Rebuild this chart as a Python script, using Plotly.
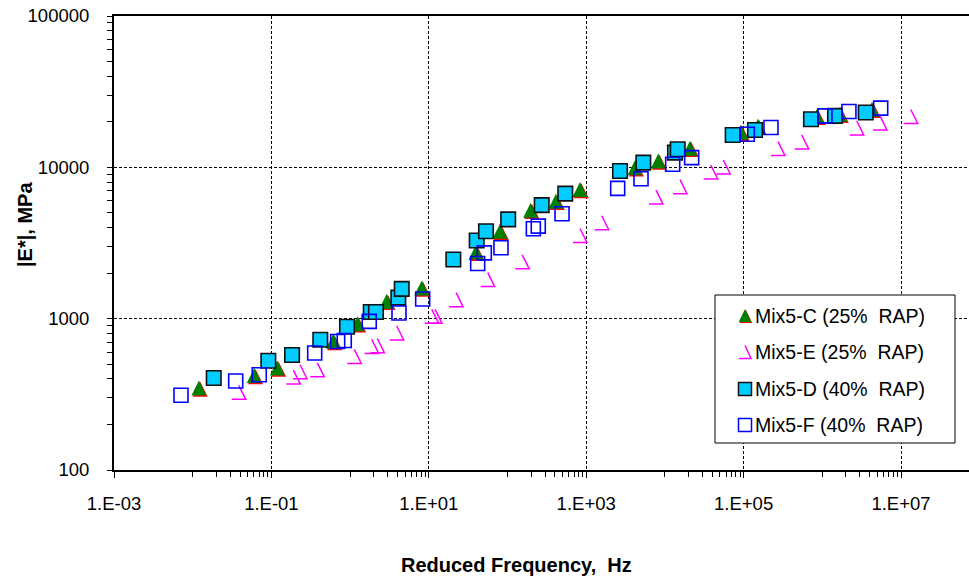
import plotly.graph_objects as go

# Dynamic modulus master curves: reduced frequency (Hz) vs |E*| (MPa)

# Mix5-C (25% RAP)
c_freq = [0.0120, 0.0607, 0.119, 0.612, 1.24, 2.92, 8.13, 39.8, 80.3, 197, 413, 834,
          4170, 8240, 20840, 92700, 152000, 857000, 1.68e6, 4.28e6]
c_mod = [348, 421, 472, 708, 926, 1302, 1597, 2748, 3785, 5214, 5980, 7148,
         9950, 11010, 13360, 17060, 18700, 21760, 22440, 24210]

# Mix5-E (25% RAP)
e_freq = [0.0385, 0.190, 0.231, 0.383, 1.13, 1.88, 2.22, 3.91, 10.9, 12.0, 22.2, 56.0,
          154, 834, 1574, 7710, 15560, 38200, 55200, 273500, 547000, 2.74e6, 5.41e6, 1.33e7]
e_mod = [326, 411, 446, 459, 563, 656, 663, 804, 1036, 1036, 1336, 1812,
         2374, 3545, 4303, 6357, 7450, 9310, 10050, 13300, 14720, 18200, 19650, 21670]

# Mix5-D (40% RAP)
d_freq = [0.0185, 0.0914, 0.183, 0.418, 0.914, 1.83, 2.13, 4.10, 4.53, 20.5, 40.6, 53.3,
          102, 272, 542, 2690, 5320, 13430, 14550, 72600, 139600, 718000, 1.45e6, 3.56e6]
d_mod = [405, 527, 575, 726, 885, 1107, 1107, 1377, 1573, 2459, 3285, 3785,
         4527, 5627, 6698, 9450, 10740, 12510, 13160, 16370, 17660, 20800, 21870, 23030]

# Mix5-F (40% RAP)
f_freq = [0.0071, 0.0352, 0.0701, 0.355, 0.695, 0.843, 1.75, 4.18, 8.36, 41.8, 50.7, 82.6,
          213, 246, 493, 2512, 4970, 12560, 21880, 111400, 222800, 1.08e6, 2.18e6, 5.52e6]
f_mod = [312, 387, 426, 593, 707, 718, 960, 1091, 1350, 2313, 2723, 2940,
         3926, 4085, 4935, 7261, 8415, 10470, 11590, 16550, 18330, 21870, 23380, 24600]

series_names = ["Mix5-C (25%\u00a0 RAP)", "Mix5-E (25%\u00a0 RAP)",
                "Mix5-D (40%\u00a0 RAP)", "Mix5-F (40%\u00a0 RAP)"]

x_tick_vals = [1e-3, 1e-1, 1e1, 1e3, 1e5, 1e7]
x_tick_text = ["1.E-03", "1.E-01", "1.E+01", "1.E+03", "1.E+05", "1.E+07"]
y_tick_vals = [100, 1000, 10000, 100000]
y_tick_text = ["100", "1000", "10000", "100000"]

# ---- geometry ----
W, H = 969, 582
ML, MR, MT, MB = 114, 0, 16, 112
X_RANGE = [-3, 7.864]
Y_RANGE = [2, 5]
PLOT_W = W - ML - MR
PLOT_H = H - MT - MB
PX_X = PLOT_W / (X_RANGE[1] - X_RANGE[0])   # pixels per decade, x
PX_Y = PLOT_H / (Y_RANGE[1] - Y_RANGE[0])   # pixels per decade, y

FONT = "Liberation Sans, Arial, sans-serif"


def nudge(vals, px, per_decade):
    """Move log-scaled values by a fixed number of screen pixels."""
    k = 10 ** (px / per_decade)
    return [v * k for v in vals]


def hook_marks(freqs, mods, hw, hh):
    """Open triangle drawn with only its right side and base."""
    kx = 10 ** (hw / PX_X)
    ky = 10 ** (hh / PX_Y)
    xs, ys = [], []
    for f, m in zip(freqs, mods):
        xs += [f, f * kx, f / kx, None]
        ys += [m * ky, m / ky, m / ky, None]
    return xs, ys


def paper_x(px):
    return (px - ML) / PLOT_W


def paper_y(py):
    return (H - MB - py) / PLOT_H


TRI = 15  # triangle marker size (apex sits on the anchor point)

fig = go.Figure()

# Mix5-C: green triangles with a red edge offset down-right
fig.add_trace(go.Scatter(
    x=nudge(c_freq, 1.3, PX_X), y=nudge(c_mod, TRI / 2 - 1.3, PX_Y),
    mode="markers", hoverinfo="skip",
    marker=dict(symbol="arrow-up", size=TRI, color="#FF0000", line=dict(width=0))))
fig.add_trace(go.Scatter(
    x=c_freq, y=nudge(c_mod, TRI / 2, PX_Y), name=series_names[0],
    mode="markers",
    marker=dict(symbol="arrow-up", size=TRI, color="#008000", line=dict(width=0))))

# Mix5-E: magenta open hooks
ex, ey = hook_marks(e_freq, e_mod, 7, 7)
fig.add_trace(go.Scatter(
    x=ex, y=ey, name=series_names[1], mode="lines", connectgaps=False,
    line=dict(color="#FF00FF", width=1.5)))

# Mix5-D: cyan squares with black border
fig.add_trace(go.Scatter(
    x=d_freq, y=d_mod, name=series_names[2], mode="markers",
    marker=dict(symbol="square", size=14.5, color="#00CCFF",
                line=dict(color="#111111", width=1.6))))

# Mix5-F: blue open squares
fig.add_trace(go.Scatter(
    x=f_freq, y=f_mod, name=series_names[3], mode="markers",
    marker=dict(symbol="square-open", size=14, color="#0000FF",
                line=dict(width=1.6))))

# x minor ticks every tenth of a two-decade step, y minor ticks at 2..9
x_minor = [m * 10 ** (k + 1) for k in range(-3, 8, 2) for m in range(1, 10)]
y_minor = [m * 10 ** k for k in range(2, 5) for m in range(2, 10)]

grid = dict(showgrid=True, gridcolor="#000000", gridwidth=1, griddash="3px,2px")

fig.update_xaxes(
    type="log", range=X_RANGE, tickmode="array", tickvals=x_tick_vals,
    ticktext=x_tick_text, ticks="outside", ticklen=6, tickwidth=1,
    tickcolor="#000000", showline=True, linecolor="#000000", linewidth=2,
    mirror=True, zeroline=False, ticklabelstandoff=10,
    tickfont=dict(family=FONT, size=18.5, color="#000000"),
    minor=dict(tickmode="array", tickvals=x_minor, ticks="outside", ticklen=5,
               tickwidth=1, tickcolor="#000000", showgrid=False),
    **grid)
fig.update_yaxes(
    type="log", range=Y_RANGE, tickmode="array", tickvals=y_tick_vals,
    ticktext=y_tick_text, ticks="outside", ticklen=5, tickwidth=1,
    tickcolor="#000000", showline=True, linecolor="#000000", linewidth=2,
    mirror=False, zeroline=False, ticklabelstandoff=14,
    tickfont=dict(family=FONT, size=18.5, color="#000000"),
    minor=dict(tickmode="array", tickvals=y_minor, ticks="outside", ticklen=5,
               tickwidth=1, tickcolor="#000000", showgrid=False),
    **grid)

# ---- legend box drawn by hand ----
shapes = [dict(type="rect", xref="paper", yref="paper", layer="above",
               x0=paper_x(715), x1=paper_x(955), y0=paper_y(443), y1=paper_y(295),
               fillcolor="#FFFFFF", line=dict(color="#000000", width=1))]
annotations = []
key_x = 745
row_y = [315.5, 352, 389, 425]
key = dict(type="path", xref="paper", yref="paper", layer="above",
           xsizemode="pixel", ysizemode="pixel", xanchor=paper_x(key_x))

tri = "M-6.3,-6.5 L6.3,-6.5 L0,6.5 Z"
shapes.append(dict(key, yanchor=paper_y(row_y[0] + 1), xanchor=paper_x(key_x + 1),
                   path=tri, fillcolor="#FF0000", line=dict(width=0)))
shapes.append(dict(key, yanchor=paper_y(row_y[0]), path=tri,
                   fillcolor="#008000", line=dict(width=0)))
shapes.append(dict(key, yanchor=paper_y(row_y[1]), path="M0,6.5 L6,-6.5 L-6,-6.5",
                   fillcolor="rgba(0,0,0,0)", line=dict(color="#FF00FF", width=1.5)))
sq = "M-6.5,-6.5 L6.5,-6.5 L6.5,6.5 L-6.5,6.5 Z"
shapes.append(dict(key, yanchor=paper_y(row_y[2]), path=sq,
                   fillcolor="#00CCFF", line=dict(color="#111111", width=1.5)))
shapes.append(dict(key, yanchor=paper_y(row_y[3]), path=sq,
                   fillcolor="rgba(0,0,0,0)", line=dict(color="#0000FF", width=1.5)))

for name, ry in zip(series_names, row_y):
    annotations.append(dict(
        xref="paper", yref="paper", x=paper_x(753), y=paper_y(ry),
        xanchor="left", yanchor="middle", showarrow=False, text=name,
        font=dict(family=FONT, size=19.5, color="#000000")))

# axis titles
annotations.append(dict(
    xref="paper", yref="paper", x=paper_x(516), y=paper_y(565),
    xanchor="center", yanchor="middle", showarrow=False,
    text="<b>Reduced Frequency,\u00a0 Hz</b>",
    font=dict(family=FONT, size=20, color="#000000")))
annotations.append(dict(
    xref="paper", yref="paper", x=paper_x(25), y=paper_y(225),
    xanchor="center", yanchor="middle", showarrow=False, textangle=-90,
    text="<b>|E*|, MPa</b>",
    font=dict(family=FONT, size=20, color="#000000")))

fig.update_layout(
    width=W, height=H, margin=dict(l=ML, r=MR, t=MT, b=MB, autoexpand=False),
    paper_bgcolor="#FFFFFF", plot_bgcolor="#FFFFFF", showlegend=False,
    hovermode=False, shapes=shapes, annotations=annotations,
    font=dict(family=FONT, color="#000000"))

fig.write_html("out.html")
